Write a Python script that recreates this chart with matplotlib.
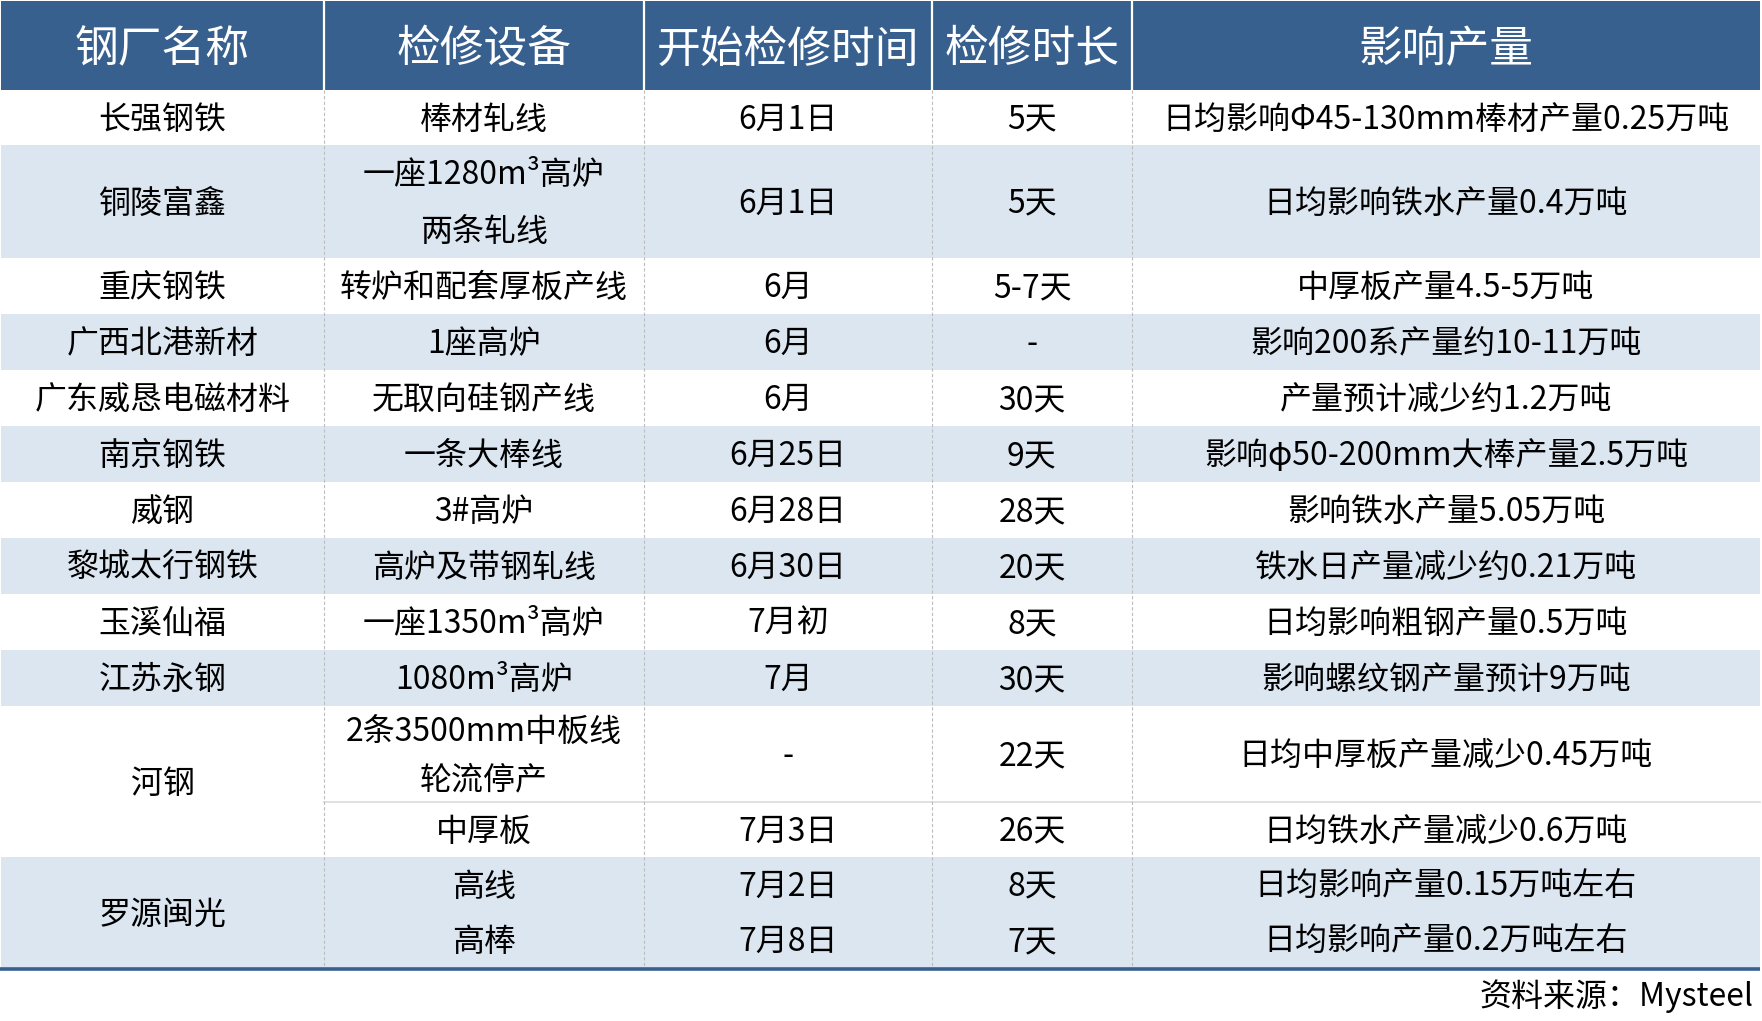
import matplotlib
matplotlib.use("Agg")
import matplotlib.pyplot as plt
from matplotlib.patches import Rectangle

plt.rcParams['font.family'] = ['Noto Sans CJK SC', 'DejaVu Sans']

# ---------------- data ----------------
headers = ['钢厂名称', '检修设备', '开始检修时间', '检修时长', '影响产量']
companies = ['长强钢铁', '铜陵富鑫', '重庆钢铁', '广西北港新材', '广东威恳电磁材料',
             '南京钢铁', '威钢', '黎城太行钢铁', '玉溪仙福', '江苏永钢', '河钢', '罗源闽光']
entry_company = [0, 1, 2, 3, 4, 5, 6, 7, 8, 9, 10, 10, 11, 11]
equipment = ['棒材轧线', '一座1280m³高炉\n两条轧线', '转炉和配套厚板产线', '1座高炉',
             '无取向硅钢产线', '一条大棒线', '3#高炉', '高炉及带钢轧线', '一座1350m³高炉',
             '1080m³高炉', '2条3500mm中板线\n轮流停产', '中厚板', '高线', '高棒']
start_time = ['6月1日', '6月1日', '6月', '6月', '6月', '6月25日', '6月28日', '6月30日',
              '7月初', '7月', '-', '7月3日', '7月2日', '7月8日']
duration = ['5天', '5天', '5-7天', '-', '30天', '9天', '28天', '20天', '8天', '30天',
            '22天', '26天', '8天', '7天']
impact = ['日均影响Φ45-130mm棒材产量0.25万吨', '日均影响铁水产量0.4万吨', '中厚板产量4.5-5万吨',
          '影响200系产量约10-11万吨', '产量预计减少约1.2万吨', '影响φ50-200mm大棒产量2.5万吨',
          '影响铁水产量5.05万吨', '铁水日产量减少约0.21万吨', '日均影响粗钢产量0.5万吨',
          '影响螺纹钢产量预计9万吨', '日均中厚板产量减少0.45万吨', '日均铁水产量减少0.6万吨',
          '日均影响产量0.15万吨左右', '日均影响产量0.2万吨左右']
source = '资料来源：Mysteel'

# ---------------- layout ----------------
W, H = 1762, 1021
col_x = [1, 324, 644, 932, 1132, 1760]
header_top, header_bot = 1, 90
entry_heights = [55, 113, 56, 56, 56, 56, 56, 56, 56, 56, 96, 55, 55, 56]
HEADER_BLUE = '#37608F'
LIGHT = '#DCE6F1'
DASH = '#BDBDBD'
FS = 23
DY = 2  # small baseline nudge

fig = plt.figure(figsize=(W / 100, H / 100), dpi=100)
ax = fig.add_axes([0, 0, 1, 1])
ax.set_xlim(0, W)
ax.set_ylim(H, 0)
ax.axis('off')

# header
ax.add_patch(Rectangle((col_x[0], header_top), col_x[-1] - col_x[0], header_bot - header_top,
                       facecolor=HEADER_BLUE, edgecolor='none'))
for i, h in enumerate(headers):
    ax.text((col_x[i] + col_x[i + 1]) / 2, (header_top + header_bot) / 2 + 4, h,
            color='white', fontsize=31.5, fontweight='light', ha='center', va='center')
for x in col_x[1:-1]:
    ax.plot([x, x], [header_top, header_bot], color='white', lw=1.6)

# entry positions
tops = []
y = header_bot
for hgt in entry_heights:
    tops.append(y)
    y += hgt
table_bottom = y

# company groups (background + name)
for c, name in enumerate(companies):
    idx = [k for k, e in enumerate(entry_company) if e == c]
    top = tops[idx[0]]
    bot = tops[idx[-1]] + entry_heights[idx[-1]]
    color = 'white' if c % 2 == 0 else LIGHT
    ax.add_patch(Rectangle((col_x[0], top), col_x[-1] - col_x[0], bot - top,
                           facecolor=color, edgecolor='none', zorder=0))
    ax.text((col_x[0] + col_x[1]) / 2, (top + bot) / 2 + DY, name,
            fontsize=FS, ha='center', va='center', color='black')


def cell_text(col, k, text):
    lines = text.split('\n')
    n = len(lines)
    hgt = entry_heights[k]
    cx = (col_x[col] + col_x[col + 1]) / 2
    for i, ln in enumerate(lines):
        cy = tops[k] + (i + 0.5) * hgt / n + DY
        ax.text(cx, cy, ln, fontsize=FS, ha='center', va='center', color='black')


for k in range(len(entry_company)):
    cell_text(1, k, equipment[k])
    cell_text(2, k, start_time[k])
    cell_text(3, k, duration[k])
    cell_text(4, k, impact[k])

# solid light separator between the two 河钢 sub-rows
for k in range(1, len(entry_company)):
    if entry_company[k] == entry_company[k - 1] and entry_company[k] == 10:
        ax.plot([col_x[1], col_x[-1]], [tops[k], tops[k]], color='#DADADA', lw=1.2, zorder=2)

# dashed vertical separators in body
for x in col_x[1:-1]:
    ax.plot([x, x], [header_bot, table_bottom], color=DASH, lw=0.8,
            linestyle=(0, (3, 2)), zorder=2)

# bottom thick line
ax.plot([0, col_x[-1]], [table_bottom + 1, table_bottom + 1],
        color=HEADER_BLUE, lw=2.6, zorder=3, solid_capstyle='butt')

ax.text(1753, 996, source, fontsize=FS, ha='right', va='center', color='black')

fig.savefig('out.png', dpi=100)
